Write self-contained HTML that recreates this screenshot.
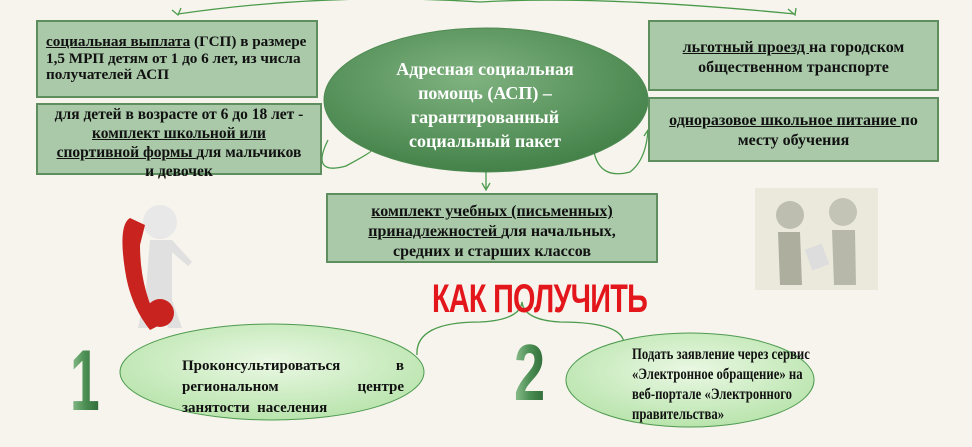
<!DOCTYPE html>
<html><head><meta charset="utf-8"><style>
body{margin:0;width:972px;height:447px;background:#f6f4ed;position:relative;overflow:hidden;font-family:"Liberation Serif",serif;}
.b{position:absolute;background:#a9c9a9;border:2px solid #5e8e5e;box-sizing:border-box;font-weight:bold;font-size:16px;line-height:20px;color:#111;text-align:center;white-space:nowrap}
u{text-decoration:underline}
.t{position:absolute}
</style></head><body>
<svg width="972" height="447" style="position:absolute;left:0;top:0">
<defs>
<radialGradient id="g" cx="45%" cy="35%" r="70%"><stop offset="0" stop-color="#7fb27f"/><stop offset="1" stop-color="#3f7e45"/></radialGradient>
<radialGradient id="g2" cx="50%" cy="40%" r="60%"><stop offset="0" stop-color="#eaf8e3"/><stop offset="1" stop-color="#b9e4ad"/></radialGradient>
<linearGradient id="n" x1="0" y1="0" x2="1" y2="0"><stop offset="0" stop-color="#8fbf8f"/><stop offset="0.5" stop-color="#4c8f54"/><stop offset="1" stop-color="#2f6a37"/></linearGradient>
</defs>
<g fill="none" stroke="#4b9a4b" stroke-width="1.3">
<path d="M178 14 Q330 -8 480 2 Q600 -5 795 14"/>
<path d="M172 10 L178 15 L181 8"/>
<path d="M788 9 L795 15 L796 8"/>
<path d="M328 140 Q310 176 346 166 Q372 152 372 150"/>
<path d="M594 152 Q600 180 630 172 Q646 160 648 130 M644 136 L648 130 L652 134"/>
<path d="M486 172 L486 188 M482 183 L486 190 L490 183"/>
<path d="M417 355 Q415 322 480 322 Q520 320 522 302 Q524 320 560 322 Q625 322 624 345"/>
</g>
<ellipse cx="486" cy="100" rx="162" ry="72" fill="url(#g)" stroke="#4e8a52"/>
<ellipse cx="272" cy="372" rx="152" ry="48" fill="url(#g2)" stroke="#4e9a4e"/>
<ellipse cx="690" cy="380" rx="124" ry="47" fill="url(#g2)" stroke="#4e9a4e"/>
<circle cx="160" cy="222" r="17" fill="#e8e8e8"/>
<path d="M150 240 L172 240 L192 262 L188 266 L172 252 L172 300 L182 328 L168 328 L160 300 L150 328 L138 328 L146 290 Z" fill="#e0e0e0"/>
<path d="M130 218 Q118 225 125 270 Q130 305 150 330 L160 325 Q140 290 140 245 L145 225 Z" fill="#c9231f"/>
<circle cx="160" cy="313" r="14" fill="#c9231f"/>
<rect x="755" y="188" width="123" height="102" fill="#ebe9dc"/>
<circle cx="790" cy="215" r="14" fill="#bdbdb0"/><circle cx="843" cy="212" r="14" fill="#c4c4b6"/>
<path d="M778 232 L800 232 L802 285 L780 285 Z" fill="#aeae9f"/>
<path d="M832 230 L855 230 L856 285 L834 285 Z" fill="#b8b8aa"/>
<rect x="808" y="246" width="18" height="22" fill="#ddd" transform="rotate(-20 817 257)"/>
<text x="70" y="410" font-family="Liberation Sans" font-weight="bold" font-size="86" fill="url(#n)" transform="scale(0.62,1)" style="transform-origin:70px 0">1</text>
<text x="514" y="400" font-family="Liberation Sans" font-weight="bold" font-size="80" fill="url(#n)" transform="scale(0.7,1)" style="transform-origin:514px 0">2</text>
</svg>
<div class="b" style="left:36px;top:20px;width:282px;height:78px;text-align:left;padding:12px 0 0 8px;font-size:15.2px;line-height:16.5px">
<u>социальная выплата</u> (ГСП) в размере<br>1,5 МРП детям от 1 до 6 лет, из числа<br>получателей АСП</div>
<div class="b" style="left:36px;top:103px;width:286px;height:72px;padding-top:0;line-height:19px;font-size:15.5px">
для детей в возрасте от 6 до 18 лет -<br><u>комплект школьной или</u><br><u>спортивной формы </u>для мальчиков<br>и девочек</div>
<div class="b" style="left:648px;top:20px;width:291px;height:71px;padding-top:16px">
<u>льготный проезд </u>на городском<br>общественном транспорте</div>
<div class="b" style="left:648px;top:97px;width:291px;height:65px;padding-top:12px">
<u>одноразовое школьное питание </u>по<br>месту обучения</div>
<div class="b" style="left:326px;top:193px;width:332px;height:70px;padding-top:7px">
<u>комплект учебных (письменных)</u><br><u>принадлежностей </u>для начальных,<br>средних и старших классов</div>
<div class="t" style="left:350px;top:57px;width:270px;text-align:center;color:#fff;font-weight:bold;font-size:18px;line-height:24px">Адресная социальная<br>помощь (АСП) –<br>гарантированный<br>социальный пакет</div>
<div class="t" style="left:397px;top:279px;width:250px;text-align:center;color:#e3161b;font-family:'Liberation Sans',sans-serif;font-weight:bold;font-size:40px;line-height:40px;transform:scaleX(0.72);transform-origin:center;white-space:nowrap;letter-spacing:-1px">КАК ПОЛУЧИТЬ</div>
<div class="t" style="left:182px;top:356px;width:222px;font-weight:bold;font-size:15px;line-height:21px;color:#111">
<div style="display:flex;justify-content:space-between"><span>Проконсультироваться</span><span>в</span></div>
<div style="display:flex;justify-content:space-between"><span>региональном</span><span>центре</span></div>
<div>занятости&nbsp; населения</div></div>
<div class="t" style="left:632px;top:345px;width:220px;font-weight:bold;font-size:15.5px;line-height:20px;color:#111;transform:scaleX(0.82);transform-origin:0 0;white-space:nowrap">Подать заявление через сервис<br>«Электронное обращение» на<br>веб-портале «Электронного<br>правительства»</div>
</body></html>
